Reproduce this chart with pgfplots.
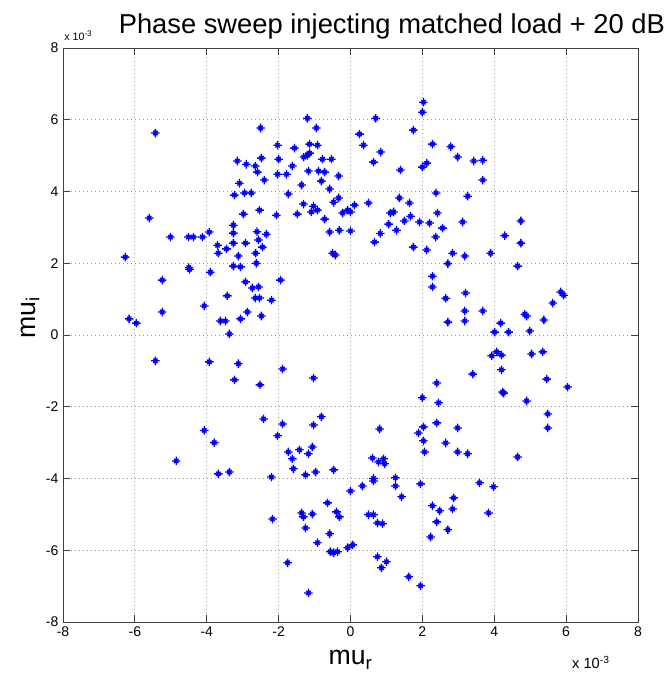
\documentclass[border=0pt]{standalone}
\usepackage{fontspec}
\setmainfont{Liberation Sans}
\usepackage{pgfplots}
\pgfplotsset{compat=1.18}
\pgfdeclareplotmark{mstar}{%
 \pgfpathmoveto{\pgfqpoint{-\pgfplotmarksize}{0pt}}\pgfpathlineto{\pgfqpoint{\pgfplotmarksize}{0pt}}%
 \pgfpathmoveto{\pgfqpoint{0pt}{-\pgfplotmarksize}}\pgfpathlineto{\pgfqpoint{0pt}{\pgfplotmarksize}}%
 \pgfpathmoveto{\pgfqpoint{-.5\pgfplotmarksize}{-.5\pgfplotmarksize}}\pgfpathlineto{\pgfqpoint{.5\pgfplotmarksize}{.5\pgfplotmarksize}}%
 \pgfpathmoveto{\pgfqpoint{-.5\pgfplotmarksize}{.5\pgfplotmarksize}}\pgfpathlineto{\pgfqpoint{.5\pgfplotmarksize}{-.5\pgfplotmarksize}}%
 \pgfusepathqstroke}
\definecolor{mblue}{RGB}{0,0,255}
\begin{document}
\begin{tikzpicture}
\path[use as bounding box] (-47.25pt,-53.25pt) rectangle (452.25pt,466.5pt);
\begin{axis}[
  scale only axis, width=431.25pt, height=430.5pt,
  xmin=-8, xmax=8, ymin=-8, ymax=8,
  xtick={-8,-6,...,8}, ytick={-8,-6,...,8},
  grid=major, major grid style={dash pattern=on 0.6pt off 2.4pt, gray!80, line width=0.6pt},
  axis line style={black!75, line width=0.6pt},
  tick style={black!75, line width=0.6pt},
  major tick length=5pt,
  tick align=inside,
  /pgf/number format/assume math mode=true,
  tick label style={font=\fontsize{10.5}{12}\selectfont},
  xlabel={mu\textsubscript{r}}, ylabel={mu\textsubscript{i}},
  label style={font=\fontsize{20}{22}\selectfont},
  xlabel style={at={(axis description cs:0.5,-0.066)}, anchor=center},
  ylabel style={at={(axis description cs:-0.057,0.53)}, anchor=center, rotate=0},
  clip=false,
]
\addplot[only marks, mark=mstar, mark size=3.2pt, color=mblue, line width=1pt] table[row sep=\\] {
x y\\
-5.43 5.63\\ -5.6 3.26\\ -3.15 4.85\\ -2.9 4.76\\ -2.48 4.93\\ -2.65 4.71\\ -2.59 4.54\\ -3.09 4.23\\
-3.23 3.9\\ -2.95 3.96\\ -2.76 3.96\\ -2.5 5.77\\ -2.98 3.37\\ -2.53 3.48\\ -3.26 3.06\\ -3.26 2.84\\
-2.6 2.88\\ -3.93 2.87\\ -5.01 2.73\\ -4.51 2.73\\ -4.37 2.73\\ -4.12 2.73\\ -3.7 2.5\\ -3.68 2.28\\
-3.45 2.4\\ -3.26 2.56\\ -2.92 2.56\\ -2.56 2.65\\ -2.45 2.45\\ -3.12 2.2\\ -2.64 2.28\\ -6.27 2.17\\
-4.5 1.88\\ -4.48 1.83\\ -3.9 1.75\\ -3.26 1.92\\ -3.06 1.9\\ -2.62 2.0\\ -5.24 1.53\\ -2.92 1.48\\
-2.73 1.31\\ -2.56 1.34\\ -3.43 1.09\\ -2.65 1.03\\ -2.53 1.03\\ -2.2 0.97\\ -4.07 0.81\\ -5.24 0.64\\
-2.87 0.64\\ -6.16 0.45\\ -5.96 0.33\\ -3.62 0.39\\ -3.48 0.39\\ -3.06 0.45\\ -3.37 0.03\\ -2.48 0.53\\
-1.95 1.53\\ -2.34 2.81\\
-5.43 -0.72\\ -3.93 -0.75\\ -3.12 -0.8\\ -3.23 -1.25\\ -2.52 -1.39\\ -4.07 -2.66\\ -3.79 -3.0\\ -4.85 -3.51\\
-3.68 -3.87\\ -3.37 -3.82\\ -1.89 -0.95\\ -1.03 -1.2\\ -2.42 -2.34\\ -1.89 -2.48\\ -1.03 -2.51\\ -0.81 -2.28\\
-2.03 -2.81\\ -1.73 -3.26\\ -1.42 -3.2\\ -1.17 -3.31\\ -1.06 -3.12\\ -1.62 -3.45\\ -1.59 -3.73\\ -2.2 -3.96\\
-1.25 -3.9\\ -0.97 -3.82\\ -0.47 -3.76\\ -0.64 -4.68\\ -0.39 -4.93\\ -0.31 -5.07\\ -1.36 -4.96\\ -1.31 -5.07\\
-1.06 -4.99\\ -2.17 -5.13\\ -1.25 -5.38\\ -0.58 -5.54\\ -0.92 -5.79\\ -0.56 -6.04\\ -0.47 -6.07\\ -0.36 -6.04\\
-0.08 -5.93\\ 0.06 -5.85\\ -1.75 -6.35\\ -1.17 -7.19\\ 0.0 -4.35\\
-1.2 6.04\\ -0.95 5.77\\ 0.7 6.04\\ 2.03 6.49\\ 2.0 6.21\\ 1.75 5.71\\ 0.25 5.6\\ 0.36 5.29\\
0.84 5.1\\ 0.64 4.82\\ 2.28 5.32\\ 2.79 5.25\\ 2.12 4.79\\ 2.0 4.68\\ 1.39 4.6\\ -2.03 5.29\\
-1.56 5.21\\ -1.14 5.32\\ -0.92 5.29\\ -1.3 4.96\\ -1.2 5.01\\ -1.14 5.07\\ -2.0 4.9\\ -2.4 4.32\\
-1.62 4.71\\ -0.78 4.9\\ -0.53 4.9\\ -1.17 4.57\\ -0.89 4.57\\ -0.72 4.54\\ -2.03 4.48\\ -1.78 4.48\\
-0.81 4.29\\ -0.33 4.43\\ -1.36 4.18\\ -0.58 4.07\\ -1.73 3.93\\ -0.33 3.82\\ -0.47 3.7\\ -1.31 3.65\\
-1.03 3.59\\ -0.92 3.48\\ -1.09 3.43\\ -1.48 3.37\\ -2.06 3.34\\ -0.72 3.23\\ -0.22 3.4\\ -0.08 3.48\\
0.0 3.43\\ 0.11 3.62\\ 0.5 3.68\\ 1.36 3.82\\ 1.64 3.68\\ 1.2 3.43\\ 1.11 3.4\\ 1.67 3.31\\
1.5 3.18\\ 1.06 3.09\\ 1.28 2.92\\ 1.92 3.15\\ 2.2 3.12\\ 2.38 3.96\\ 2.42 3.4\\ 2.56 2.98\\
-0.58 2.87\\ -0.31 2.92\\ 0.0 2.9\\ 0.83 2.83\\ -0.5 2.28\\ -0.42 2.23\\ 0.67 2.59\\ 1.75 2.45\\
2.12 2.37\\ 2.37 2.73\\
2.98 4.96\\ 3.43 4.85\\ 3.68 4.87\\ 3.68 4.32\\ 3.26 3.87\\ 3.12 3.15\\ 4.74 3.18\\ 4.29 2.77\\
4.74 2.56\\ 2.84 2.28\\ 3.18 2.2\\ 3.9 2.28\\ 2.71 1.99\\ 4.65 1.92\\ 2.28 1.64\\ 2.28 1.34\\
2.65 1.02\\ 3.2 1.17\\ 3.18 0.67\\ 3.68 0.67\\ 2.71 0.36\\ 3.18 0.39\\ 4.18 0.33\\ 4.01 0.08\\
4.4 0.08\\ 4.85 0.58\\ 4.9 0.53\\ 5.38 0.42\\ 4.99 0.11\\ 5.63 0.89\\ 5.85 1.2\\ 5.93 1.11\\
3.93 -0.58\\ 4.07 -0.47\\ 4.2 -0.56\\ 5.04 -0.53\\ 5.35 -0.47\\ 3.4 -1.09\\ 4.2 -0.97\\ 5.46 -1.23\\
6.04 -1.45\\ 4.23 -1.59\\ 4.26 -1.62\\ 4.9 -1.84\\ 5.49 -2.2\\ 5.49 -2.59\\ 2.98 -2.59\\ 2.4 -1.34\\
2.0 -1.75\\ 2.45 -1.89\\ 0.81 -2.62\\ 2.03 -2.56\\ 2.4 -2.45\\ 1.89 -2.73\\ 2.03 -2.95\\ 2.65 -3.01\\
2.98 -3.26\\ 3.26 -3.31\\ 4.65 -3.4\\ 3.59 -4.12\\ 3.98 -4.23\\ 2.87 -4.54\\ 2.84 -4.85\\ 3.84 -4.96\\
2.06 -3.26\\ 0.61 -3.43\\ 0.78 -3.54\\ 0.92 -3.45\\ 0.95 -3.59\\ 1.25 -3.98\\ 0.64 -4.07\\ 0.64 -4.0\\
0.33 -4.21\\ 1.25 -4.21\\ 1.42 -4.51\\ 1.95 -4.15\\ 0.5 -5.01\\ 0.64 -5.01\\ 0.75 -5.24\\ 0.89 -5.26\\
0.75 -6.18\\ 1.0 -6.32\\ 0.86 -6.49\\ 1.62 -6.74\\ 1.95 -6.99\\ 2.28 -4.76\\ 2.48 -4.9\\ 2.4 -5.21\\
2.71 -5.43\\ 2.23 -5.63\\
};
\node[anchor=center, font=\fontsize{20.5}{22}\selectfont] at (axis description cs:0.572,1.038) {Phase sweep injecting matched load + 20 dB};
\node[anchor=south west, font=\fontsize{8}{9}\selectfont, inner sep=0pt] at (axis description cs:0.002,1.012) {x 10\textsuperscript{-3}};
\node[anchor=west, font=\fontsize{11}{12}\selectfont, inner sep=0pt] at (axis description cs:0.885,-0.071) {x 10\textsuperscript{-3}};
\end{axis}
\end{tikzpicture}
\end{document}
